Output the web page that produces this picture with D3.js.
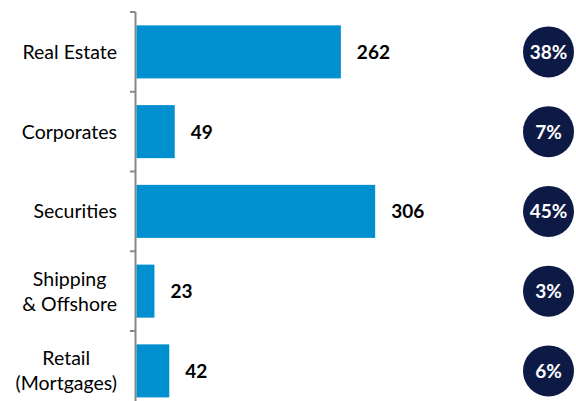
<!DOCTYPE html>
<html>
<head>
<meta charset="utf-8">
<script src="https://cdn.jsdelivr.net/npm/d3@7"></script>
<style>
  html, body { margin: 0; padding: 0; background: #fff; }
  svg { display: block; }
</style>
</head>
<body>
<svg id="chart" width="576" height="401"></svg>
<script>
// Exposure by segment
const categories = ["Real Estate", "Corporates", "Securities", "Shipping\n& Offshore", "Retail\n(Mortgages)"];
const values = [262, 49, 306, 23, 42];
const shares = ["38%", "7%", "45%", "3%", "6%"];

const W = 576, H = 401;
const FONT = "Lato, 'Open Sans', sans-serif";
const barColor = "#008fcf";
const badgeColor = "#0d1a45";
const axisColor = "#888888";

const svg = d3.select("#chart");

const y = d3.scaleBand()
  .domain(categories)
  .range([12, 12 + 5 * 79.75])
  .paddingInner(0.335)
  .paddingOuter(0.1675);

const x = d3.scaleLinear().domain([0, 400]).range([136.5, 448.5]);

const step = y.step();
const gap = y.paddingInner() * step;

// category axis: vertical rule with ticks at band boundaries
const boundaries = categories.map(c => y(c) - gap / 2).concat([y(categories[categories.length - 1]) + y.bandwidth() + gap / 2]);
const axis = svg.append("g");
axis.append("line")
  .attr("x1", 135.5).attr("x2", 135.5)
  .attr("y1", boundaries[0]).attr("y2", boundaries[boundaries.length - 1])
  .attr("stroke", axisColor).attr("stroke-width", 2);
axis.selectAll("line.tick").data(boundaries).join("line")
  .attr("class", "tick")
  .attr("x1", 130).attr("x2", 135.5)
  .attr("y1", d => d).attr("y2", d => d)
  .attr("stroke", axisColor).attr("stroke-width", 2);

// bars
svg.selectAll("rect.bar").data(values).join("rect")
  .attr("class", "bar")
  .attr("x", x(0))
  .attr("y", (d, i) => y(categories[i]))
  .attr("width", d => x(d) - x(0))
  .attr("height", y.bandwidth())
  .attr("fill", barColor);

// value labels
svg.selectAll("text.val").data(values).join("text")
  .attr("class", "val")
  .attr("x", d => x(d) + 16)
  .attr("y", (d, i) => y(categories[i]) + y.bandwidth() / 2 + 7)
  .attr("font-family", FONT)
  .attr("font-weight", 700)
  .attr("font-size", 19)
  .attr("fill", "#000")
  .text(d => d);

// category labels (multi-line labels centred on their widest line, block right-aligned)
const labelRight = 117;
const lineH = 25;
categories.forEach((c, i) => {
  const lines = c.split("\n");
  const cy = y(c) + y.bandwidth() / 2;
  const g = svg.append("g");
  const texts = lines.map((ln, j) => g.append("text")
    .attr("font-family", FONT)
    .attr("font-size", 19.5)
    .attr("fill", "#000")
    .attr("text-anchor", "middle")
    .attr("y", cy + 7 + (j - (lines.length - 1) / 2) * lineH)
    .text(ln));
  const widths = texts.map(t => t.node().getComputedTextLength());
  const maxW = d3.max(widths);
  texts.forEach(t => t.attr("x", labelRight - maxW / 2));
});

// share badges
const cx = 548.5;
const badges = svg.selectAll("g.badge").data(shares).join("g")
  .attr("class", "badge")
  .attr("transform", (d, i) => `translate(${cx},${y(categories[i]) + y.bandwidth() / 2})`);
badges.append("circle").attr("r", 25.5).attr("fill", badgeColor);
badges.append("text")
  .attr("text-anchor", "middle")
  .attr("y", 7)
  .attr("font-family", FONT)
  .attr("font-weight", 700)
  .attr("font-size", 19)
  .attr("fill", "#fff")
  .text(d => d);
</script>
</body>
</html>
